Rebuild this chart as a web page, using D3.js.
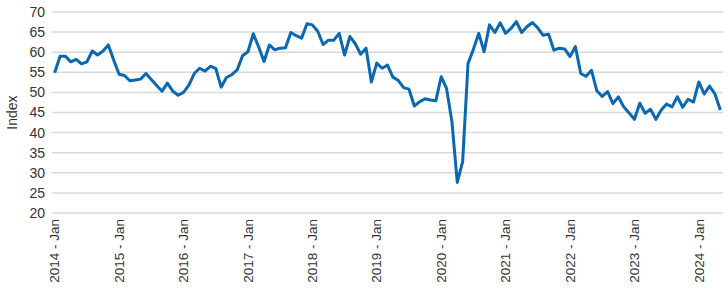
<!DOCTYPE html>
<html>
<head>
<meta charset="utf-8">
<script src="https://cdn.jsdelivr.net/npm/d3@7"></script>
<style>
  body { margin: 0; background: #fff; }
  text { font-family: "Liberation Sans", Arial, sans-serif; fill: #333; }
</style>
</head>
<body>
<svg id="chart"></svg>
<script>
// monthly index, 2014 Jan .. 2024 May
const startYear = 2014;
const values = [
  54.9, 59.0, 59.0, 57.6, 58.2, 57.1, 57.6, 60.3, 59.3, 60.3, 61.8, 58.0,
  54.5, 54.2, 52.9, 53.1, 53.3, 54.7, 53.2, 51.7, 50.3, 52.3, 50.3, 49.3,
  50.0, 51.8, 54.7, 56.0, 55.3, 56.5, 56.0, 51.3, 53.7, 54.4, 55.6, 59.1,
  60.1, 64.6, 61.3, 57.7, 61.8, 60.6, 61.0, 61.1, 64.9, 64.1, 63.5, 67.1,
  66.8, 65.2, 61.9, 63.0, 63.0, 64.7, 59.3, 63.9, 62.1, 59.5, 61.0, 52.6,
  57.3, 56.0, 56.8, 53.8, 53.0, 51.2, 50.8, 46.6, 47.7, 48.4, 48.1, 47.9,
  53.9, 51.0, 42.7, 27.6, 32.8, 57.2, 60.7, 64.7, 60.1, 66.8, 64.9, 67.3,
  64.7, 65.9, 67.6, 64.9, 66.4, 67.4, 66.0, 64.2, 64.5, 60.5, 61.0, 60.8,
  58.9, 61.4, 54.7, 54.0, 55.5, 50.4, 49.0, 50.2, 47.2, 48.9, 46.4, 44.9,
  43.3, 47.3, 44.8, 45.8, 43.3, 45.6, 47.1, 46.4, 48.9, 46.3, 48.3, 47.6,
  52.6, 49.6, 51.6, 49.6, 45.6
];
const months = ['Jan','Feb','Mar','Apr','May','Jun','Jul','Aug','Sep','Oct','Nov','Dec'];
const categories = values.map((v, i) => (startYear + Math.floor(i / 12)) + ' - ' + months[i % 12]);
const yTicks = [20, 25, 30, 35, 40, 45, 50, 55, 60, 65, 70];

const width = 727, height = 290;
const margin = { top: 12, right: 4, bottom: 77, left: 52 };

const svg = d3.select('#chart')
  .attr('width', width)
  .attr('height', height);

const x = d3.scaleBand()
  .domain(categories)
  .range([margin.left, width - margin.right]);

const y = d3.scaleLinear()
  .domain([20, 70])
  .range([height - margin.bottom, margin.top]);

// gridlines
svg.append('g')
  .selectAll('line')
  .data(yTicks)
  .enter()
  .append('line')
  .attr('x1', margin.left)
  .attr('x2', width - margin.right)
  .attr('y1', d => y(d))
  .attr('y2', d => y(d))
  .attr('stroke', '#d9d9d9')
  .attr('stroke-width', 1.5);

// y axis labels
const yAxis = d3.axisLeft(y).tickValues(yTicks).tickSize(0).tickPadding(7);
svg.append('g')
  .attr('transform', `translate(${margin.left},0)`)
  .call(yAxis)
  .call(g => g.select('.domain').remove())
  .selectAll('text')
  .style('font-size', '14px')
  .attr('fill', '#333');

// x axis labels, every January
const xAxis = d3.axisBottom(x)
  .tickValues(categories.filter((c, i) => i % 12 === 0))
  .tickSize(0);
svg.append('g')
  .attr('transform', `translate(0,${height - margin.bottom})`)
  .call(xAxis)
  .call(g => g.select('.domain').remove())
  .selectAll('text')
  .style('font-size', '13.5px')
  .attr('fill', '#333')
  .attr('text-anchor', 'end')
  .attr('transform', 'rotate(-90)')
  .attr('x', -6)
  .attr('y', 0)
  .attr('dy', '0.35em');

// y axis title
svg.append('text')
  .attr('transform', `translate(17,${(margin.top + height - margin.bottom) / 2}) rotate(-90)`)
  .attr('text-anchor', 'middle')
  .style('font-size', '14px')
  .text('Index');

const line = d3.line()
  .x((d, i) => x(categories[i]) + x.bandwidth() / 2)
  .y(d => y(d));

svg.append('path')
  .datum(values)
  .attr('fill', 'none')
  .attr('stroke', '#0a67b2')
  .attr('stroke-width', 3)
  .attr('stroke-linejoin', 'round')
  .attr('d', line);
</script>
</body>
</html>
